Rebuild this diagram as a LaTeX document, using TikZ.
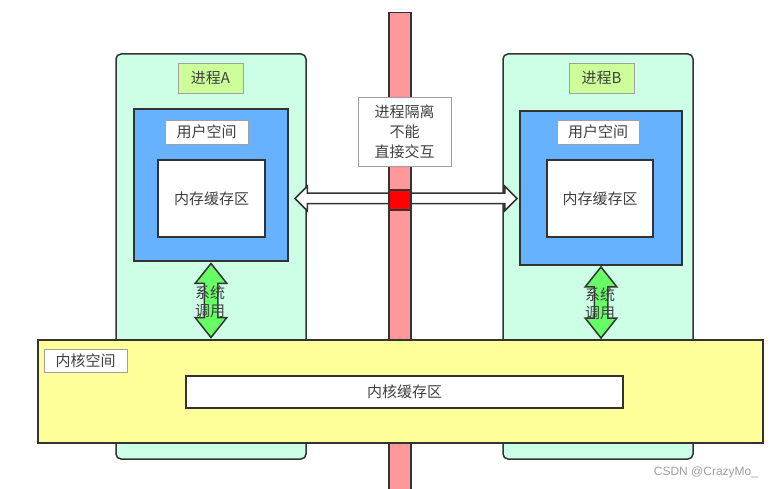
\documentclass[tikz,border=0pt]{standalone}
\usepackage{fontspec}
\setmainfont{Noto Sans CJK SC}
\newfontfamily\markfont{Liberation Sans}
\usetikzlibrary{shapes.arrows,calc}

\definecolor{mint}{HTML}{CCFFE6}
\definecolor{userblue}{HTML}{66B2FF}
\definecolor{kernyellow}{HTML}{FFFF99}
\definecolor{barpink}{HTML}{FF9999}
\definecolor{taggreen}{HTML}{CCFF99}
\definecolor{callgreen}{HTML}{66FF66}
\definecolor{edge}{HTML}{333333}
\definecolor{tagedge}{HTML}{A0A0A0}
\definecolor{textgray}{HTML}{404040}

\tikzset{
  plain/.style={inner sep=0pt, text=textgray, font=\fontsize{15}{20}\selectfont},
  procbox/.style={plain, draw=edge, line width=1.5pt, fill=mint, rounded corners=5pt},
  userbox/.style={plain, draw=edge, line width=1.5pt, fill=userblue},
  bufbox/.style={plain, draw=edge, line width=1.5pt, fill=white},
  tagbox/.style={plain, draw=tagedge, line width=0.8pt, fill=#1},
  tagbox/.default=white,
  barbox/.style={draw=edge, line width=1.5pt, fill=barpink, inner sep=0pt},
  hlink/.style={double arrow, draw=edge, line width=1.5pt, fill=white,
    inner xsep=0pt, inner ysep=4.5pt, double arrow head extend=7pt},
  callarrow/.style={double arrow, draw=edge, line width=1.5pt, fill=callgreen,
    inner xsep=0pt, inner ysep=6pt, double arrow head extend=9pt,
    double arrow tip angle=77, rotate=90}
}

\begin{document}
\begin{tikzpicture}[x=1pt,y=-1pt]
  \useasboundingbox (0,0) rectangle (779,489);

  % process A
  \node[procbox, minimum width=190pt, minimum height=405pt] (procA) at (211,256.5) {};
  \node[tagbox=taggreen, minimum width=65pt, minimum height=30pt] (tagA) at (210.5,78) {进程A};
  \node[userbox, minimum width=154pt, minimum height=152pt] (userA) at (211,185) {};
  \node[tagbox, minimum width=83pt, minimum height=24pt] (userAtag) at (206.5,132) {用户空间};
  \node[bufbox, minimum width=107pt, minimum height=77pt] (bufA) at (211.5,198.5) {内存缓存区};

  % process B
  \node[procbox, minimum width=190pt, minimum height=405pt] (procB) at (598,256.5) {};
  \node[tagbox=taggreen, minimum width=65pt, minimum height=30pt] (tagB) at (601.5,78) {进程B};
  \node[userbox, minimum width=162pt, minimum height=154pt] (userB) at (601,188) {};
  \node[tagbox, minimum width=82pt, minimum height=24pt] (userBtag) at (598,132) {用户空间};
  \node[bufbox, minimum width=106pt, minimum height=77pt] (bufB) at (600,198.5) {内存缓存区};

  % isolation wall
  \node[barbox, anchor=north, minimum width=22pt, minimum height=482pt] (wall) at (400,12) {};
  \node[tagbox, minimum width=93pt, minimum height=69pt, align=center] (note) at (404.5,131.5)
    {进程隔离\\不能\\直接交互};
  \node[hlink, minimum height=222pt] (link) at ($(bufA.east)!.5!(bufB.west)$) {};
  \node[barbox, fill=red, minimum width=22pt, minimum height=20pt] (gate) at (400,200) {};

  % kernel
  \node[userbox, fill=kernyellow, minimum width=725pt, minimum height=103pt] (kernel) at (400.5,391.5) {};
  \node[tagbox, minimum width=83pt, minimum height=23pt] (kerntag) at (85.5,360.5) {内核空间};
  \node[bufbox, minimum width=437pt, minimum height=32pt] (kbuf) at (404.5,392) {内核缓存区};

  % system calls
  \node[callarrow, minimum height=74pt] (callA) at ($(userA.south)!.5!(userA.south |- kernel.north)$) {};
  \node[plain, font=\fontsize{15}{18}\selectfont, align=center] (callAtext) at (210,301.5) {系统\\调用};
  \node[callarrow, minimum height=71pt] (callB) at ($(userB.south)!.5!(userB.south |- kernel.north)$) {};
  \node[plain, font=\fontsize{15}{18}\selectfont, align=center] (callBtext) at (600,304) {系统\\调用};

  % watermark
  \node[text=gray!75, font=\markfont\fontsize{12}{14}\selectfont] (mark) at (706,472) {CSDN @CrazyMo\_};
\end{tikzpicture}
\end{document}
